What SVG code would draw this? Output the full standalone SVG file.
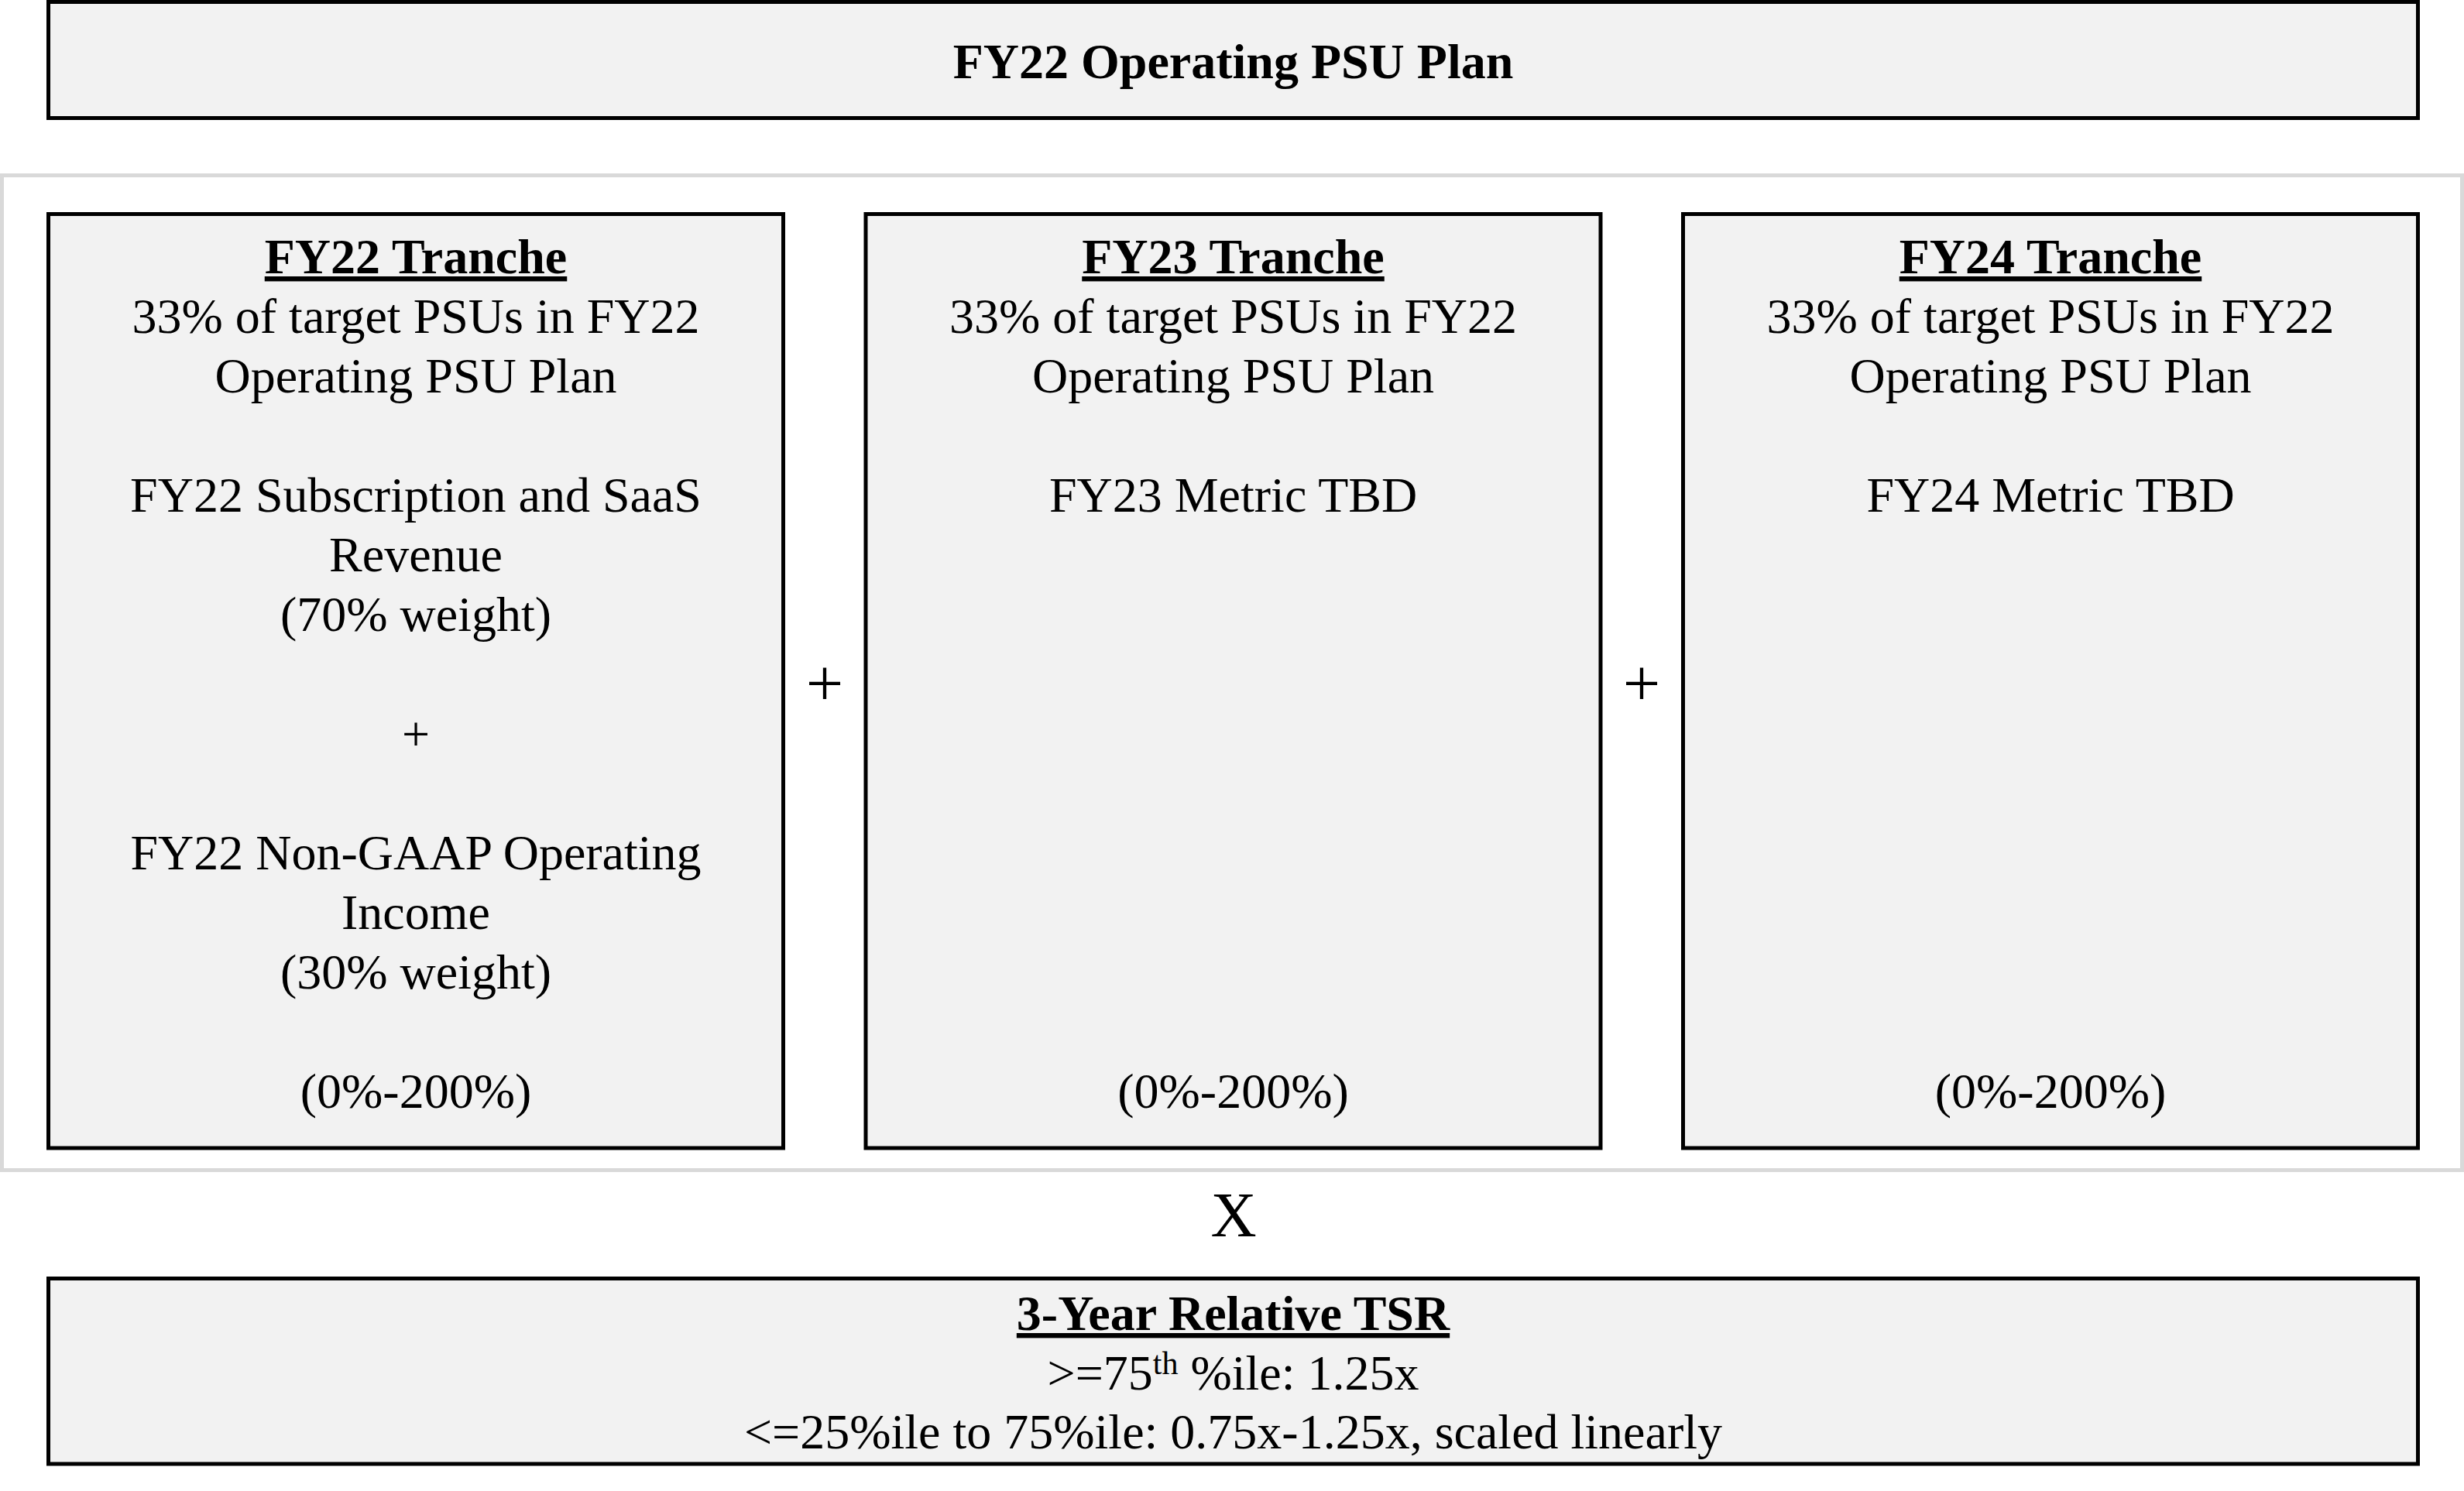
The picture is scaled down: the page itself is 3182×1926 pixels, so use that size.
<svg xmlns="http://www.w3.org/2000/svg" width="3182" height="1926" viewBox="0 0 3182 1926">
  <style>
    .box { fill: #f2f2f2; stroke: #000000; stroke-width: 5; }
    .frame { fill: #ffffff; stroke: #d9d9d9; stroke-width: 5; }
    text { font-family: "Liberation Serif", "Times New Roman", serif; fill: #000000; text-anchor: middle; }
    .t { font-size: 64px; }
    .b { font-size: 64px; font-weight: bold; }
    .u { text-decoration: underline; }
    .op { font-size: 86px; }
    .x { font-size: 82px; }
    .sup { font-size: 42px; }
  </style>
  <rect x="0" y="0" width="3182" height="1926" fill="#ffffff"/>

  <g id="plan-header">
    <rect class="box" x="62.5" y="2.5" width="3060" height="150"/>
    <text class="b" x="1592.5" y="101">FY22 Operating PSU Plan</text>
  </g>

  <g id="tranche-frame">
    <rect class="frame" x="2.5" y="226.5" width="3177" height="1285"/>
  </g>

  <g id="fy22-tranche">
    <rect class="box" x="62.5" y="276.5" width="949" height="1206.5"/>
    <text class="b u" x="537" y="353">FY22 Tranche</text>
    <text class="t" x="537" y="430">33% of target PSUs in FY22</text>
    <text class="t" x="537" y="507">Operating PSU Plan</text>
    <text class="t" x="537" y="661">FY22 Subscription and SaaS</text>
    <text class="t" x="537" y="738">Revenue</text>
    <text class="t" x="537" y="815">(70% weight)</text>
    <text class="t" x="537" y="970">+</text>
    <text class="t" x="537" y="1123">FY22 Non-GAAP Operating</text>
    <text class="t" x="537" y="1200">Income</text>
    <text class="t" x="537" y="1277">(30% weight)</text>
    <text class="t" x="537" y="1431">(0%-200%)</text>
  </g>

  <g id="fy23-tranche">
    <rect class="box" x="1118" y="276.5" width="949" height="1206.5"/>
    <text class="b u" x="1592.5" y="353">FY23 Tranche</text>
    <text class="t" x="1592.5" y="430">33% of target PSUs in FY22</text>
    <text class="t" x="1592.5" y="507">Operating PSU Plan</text>
    <text class="t" x="1592.5" y="661">FY23 Metric TBD</text>
    <text class="t" x="1592.5" y="1431">(0%-200%)</text>
  </g>

  <g id="fy24-tranche">
    <rect class="box" x="2173.5" y="276.5" width="949" height="1206.5"/>
    <text class="b u" x="2648" y="353">FY24 Tranche</text>
    <text class="t" x="2648" y="430">33% of target PSUs in FY22</text>
    <text class="t" x="2648" y="507">Operating PSU Plan</text>
    <text class="t" x="2648" y="661">FY24 Metric TBD</text>
    <text class="t" x="2648" y="1431">(0%-200%)</text>
  </g>

  <g id="tsr-modifier">
    <rect class="box" x="62.5" y="1651.5" width="3060" height="239.5"/>
    <text class="b u" x="1592.5" y="1718">3-Year Relative TSR</text>
    <text class="t" x="1592.5" y="1795">&gt;=75<tspan class="sup" dy="-20">th</tspan><tspan dy="20"> %ile: 1.25x</tspan></text>
    <text class="t" x="1592.5" y="1871">&lt;=25%ile to 75%ile: 0.75x-1.25x, scaled linearly</text>
  </g>

  <g id="connectors">
    <text class="op" x="1065" y="912">+</text>
    <text class="op" x="2120" y="912">+</text>
    <text class="x" x="1593" y="1597">X</text>
  </g>
</svg>
